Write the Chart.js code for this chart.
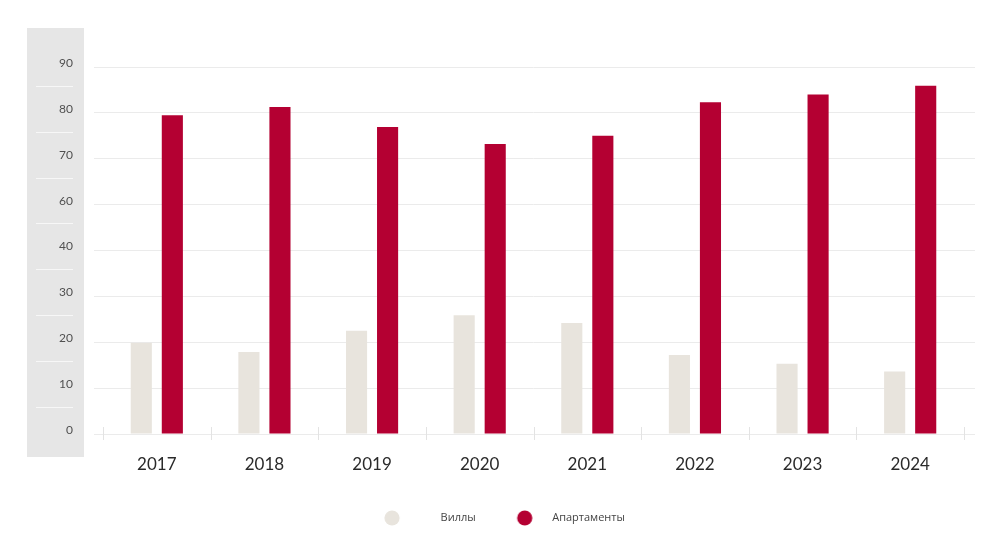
<!DOCTYPE html>
<html>
<head>
<meta charset="utf-8">
<script src="https://cdn.jsdelivr.net/npm/chart.js@4.4.1/dist/chart.umd.min.js"></script>
<style>
  html, body { margin: 0; padding: 0; background: #ffffff; }
  #wrap { width: 1000px; height: 558px; position: relative; }
</style>
</head>
<body>
<div id="wrap"><canvas id="c" width="1000" height="558"></canvas></div>
<script>
// ---- data ----
const years = ['2017', '2018', '2019', '2020', '2021', '2022', '2023', '2024'];
const villas = [19.9, 17.9, 22.5, 25.9, 24.2, 17.2, 15.3, 13.6];
const apartments = [79.5, 81.3, 76.9, 73.2, 75.0, 82.3, 84.0, 85.9];
const yTickLabels = [0, 10, 20, 30, 40, 60, 70, 80, 90];
const seriesNames = ['Виллы', 'Апартаменты'];

const colVilla = '#e8e4dd';
const colApt = '#b40032';
const gridCol = '#ebebeb';

// the axis is drawn with evenly spaced tick labels; place values against them
function toAxis(v) {
  for (let i = 0; i < yTickLabels.length - 1; i++) {
    const a = yTickLabels[i], b = yTickLabels[i + 1];
    if (v >= a && v <= b) return i + (v - a) / (b - a);
  }
  return yTickLabels.length - 1;
}

// legend point images (circle with room for the text gap)
const BOX_W = 58;
function legendImg(color, cx) {
  const cv = document.createElement('canvas');
  cv.width = BOX_W; cv.height = 16;
  const g = cv.getContext('2d');
  g.fillStyle = color;
  g.beginPath(); g.arc(cx, 8, 7.6, 0, Math.PI * 2); g.fill();
  return cv;
}
const legendImgs = [legendImg(colVilla, 15), legendImg(colApt, 36)];

const decor = {
  id: 'decor',
  beforeDraw(chart) {
    const ctx = chart.ctx;
    const y = chart.scales.y;
    ctx.save();
    ctx.fillStyle = '#e6e6e6';
    ctx.fillRect(27, 28, 57, 429);
    ctx.strokeStyle = '#f7f7f7';
    ctx.lineWidth = 1;
    for (let v = 1; v <= 8; v++) {
      const py = Math.round(y.getPixelForValue(v - 0.41)) + 0.5;
      ctx.beginPath(); ctx.moveTo(36, py); ctx.lineTo(73, py); ctx.stroke();
    }
    ctx.restore();
  },
  afterDatasetsDraw(chart) {
    const ctx = chart.ctx;
    const x = chart.scales.x, y = chart.scales.y;
    const y0 = y.getPixelForValue(0);
    ctx.save();
    ctx.strokeStyle = '#e3e3e3';
    ctx.lineWidth = 1;
    for (let i = 0; i <= years.length; i++) {
      const px = Math.round(x.getPixelForValue(i - 0.5)) + 0.5;
      ctx.beginPath(); ctx.moveTo(px, y0 - 7); ctx.lineTo(px, y0 + 6); ctx.stroke();
    }
    ctx.restore();
  }
};

new Chart(document.getElementById('c'), {
  type: 'bar',
  data: {
    labels: years,
    datasets: [
      { label: seriesNames[0], data: villas.map(toAxis), backgroundColor: colVilla, borderWidth: 0 },
      { label: seriesNames[1], data: apartments.map(toAxis), backgroundColor: colApt, borderWidth: 0 }
    ]
  },
  options: {
    responsive: false,
    animation: false,
    devicePixelRatio: 1,
    layout: { padding: { top: 67, left: 27, right: 25, bottom: 24.5 } },
    datasets: { bar: { categoryPercentage: 0.577, barPercentage: 0.68 } },
    scales: {
      x: {
        grid: { display: false },
        border: { display: false },
        ticks: { color: '#2a2a2a', padding: 12, font: { family: 'Lato, "Open Sans", sans-serif', size: 17 } },
        afterFit(s) { s.height = 65.5; }
      },
      y: {
        min: 0, max: 8,
        border: { display: false },
        grid: { color: gridCol, tickLength: 9, drawTicks: true },
        ticks: {
          stepSize: 1,
          color: '#505050',
          padding: 21,
          labelOffset: -4,
          font: { family: 'Lato, "Open Sans", sans-serif', size: 12 },
          callback: (v) => String(yTickLabels[v])
        },
        afterFit(s) { s.width = 76; }
      },
      y2: {
        position: 'right',
        min: 0, max: 8,
        border: { display: false },
        grid: { color: gridCol, tickLength: 11, drawTicks: true, drawOnChartArea: false },
        ticks: { display: false, stepSize: 1 },
        afterFit(s) { s.width = 11; }
      }
    },
    plugins: {
      tooltip: { enabled: false },
      legend: {
        position: 'bottom',
        labels: {
          usePointStyle: true,
          pointStyleWidth: BOX_W,
          padding: 13,
          color: '#444444',
          font: { family: '"Open Sans", "Noto Sans", sans-serif', size: 11 },
          generateLabels(chart) {
            const items = Chart.defaults.plugins.legend.labels.generateLabels(chart);
            items.forEach((it, i) => { it.pointStyle = legendImgs[i]; });
            return items;
          }
        }
      }
    }
  },
  plugins: [decor]
});
</script>
</body>
</html>
